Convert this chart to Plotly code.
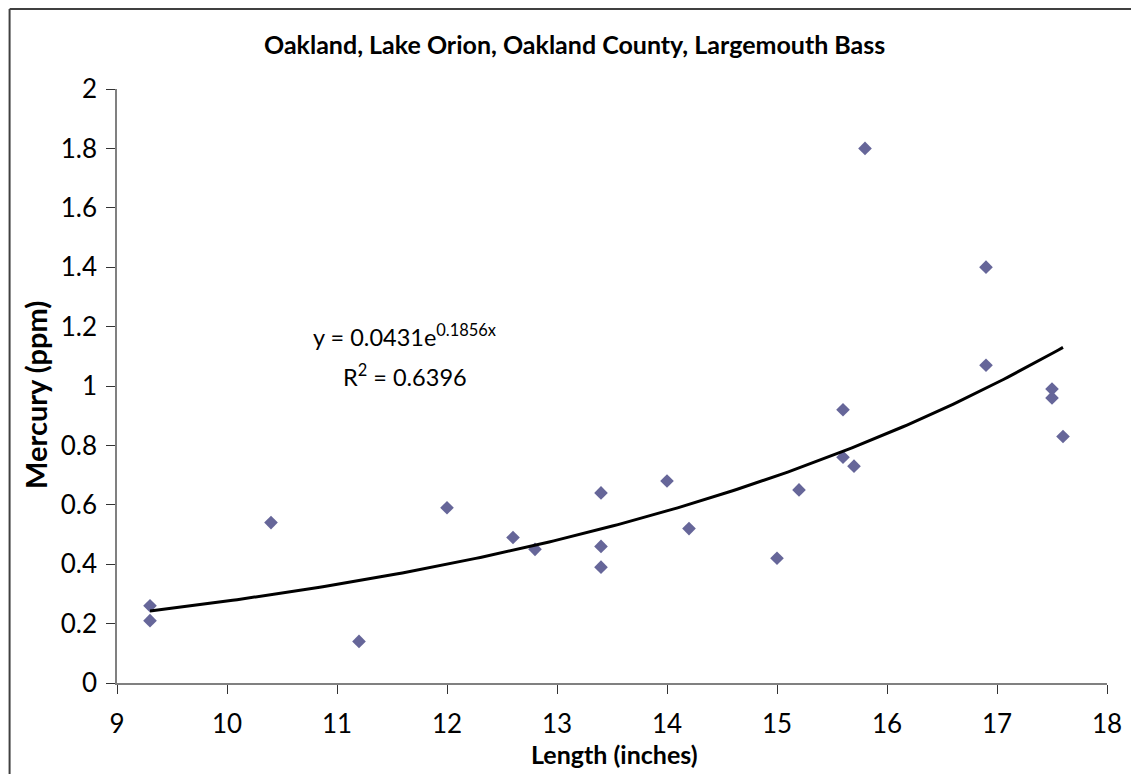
import numpy as np
import plotly.graph_objects as go

# Data
length_in = [9.3, 9.3, 10.4, 11.2, 12.0, 12.6, 12.8, 13.4, 13.4, 13.4, 14.0, 14.2,
             15.0, 15.2, 15.6, 15.6, 15.7, 15.8, 16.9, 16.9, 17.5, 17.5, 17.6]
mercury_ppm = [0.26, 0.21, 0.54, 0.14, 0.59, 0.49, 0.45, 0.64, 0.46, 0.39, 0.68, 0.52,
               0.42, 0.65, 0.92, 0.76, 0.73, 1.80, 1.40, 1.07, 0.99, 0.96, 0.83]

# Exponential trendline coefficients shown on the chart
trend_a = 0.0431
trend_b = 0.1856
trend_r2 = 0.6396

x_ticks = [9, 10, 11, 12, 13, 14, 15, 16, 17, 18]
y_ticks = [0, 0.2, 0.4, 0.6, 0.8, 1, 1.2, 1.4, 1.6, 1.8, 2]
y_tick_text = ["0", "0.2", "0.4", "0.6", "0.8", "1", "1.2", "1.4", "1.6", "1.8", "2"]

FONT = "Lato"

tx = np.linspace(min(length_in), max(length_in), 200)
ty = trend_a * np.exp(trend_b * tx)

fig = go.Figure()
fig.add_trace(go.Scatter(
    x=length_in, y=mercury_ppm, mode="markers",
    marker=dict(symbol="diamond", size=10.5, color="#666699"),
    showlegend=False, hoverinfo="x+y"))
fig.add_trace(go.Scatter(
    x=tx, y=ty, mode="lines", line=dict(color="black", width=3),
    showlegend=False, hoverinfo="skip"))

border = dict(color="#404040", width=2)
fig.update_layout(
    width=1139, height=774,
    margin=dict(l=109, r=40, t=81, b=99),
    paper_bgcolor="white", plot_bgcolor="white",
    font=dict(family=FONT, color="black"),
    xaxis=dict(range=[9, 18], tickvals=x_ticks, ticks="outside", ticklen=9,
               tickcolor="#333", showline=True, linecolor="#808080", linewidth=1.5,
               showgrid=False, zeroline=False, tickfont=dict(size=26, family=FONT),
               ticklabelstandoff=8),
    yaxis=dict(range=[0, 2], tickvals=y_ticks, ticktext=y_tick_text, ticks="outside",
               ticklen=9, tickcolor="#333", showline=True, linecolor="#808080",
               linewidth=1.5, showgrid=False, zeroline=False,
               tickfont=dict(size=26, family=FONT), ticklabelstandoff=4),
    shapes=[
        dict(type="line", xref="paper", yref="paper", x0=-0.1085, x1=-0.1085,
             y0=-0.2, y1=1.1345, line=border, layer="below"),
        dict(type="line", xref="paper", yref="paper", x0=-0.1085, x1=1.1,
             y0=1.1345, y1=1.1345, line=border, layer="below"),
    ],
    annotations=[
        dict(text="<b>Oakland, Lake Orion, Oakland County, Largemouth Bass</b>",
             xref="paper", yref="paper", x=0.4626, y=1.076, showarrow=False,
             font=dict(size=25, family=FONT), xanchor="center", yanchor="middle"),
        dict(text="<b>Length (inches)</b>", xref="paper", yref="paper",
             x=0.503, y=-0.12, showarrow=False, font=dict(size=25, family=FONT),
             xanchor="center", yanchor="middle"),
        dict(text="<b>Mercury (ppm)</b>", xref="paper", yref="paper",
             x=-0.0818, y=0.485, showarrow=False, textangle=-90,
             font=dict(size=29, family=FONT), xanchor="center", yanchor="middle"),
        dict(text=f"y = {trend_a}e<sup>{trend_b}x</sup>", xref="x", yref="y",
             x=11.61, y=1.17, showarrow=False, font=dict(size=23.5, family=FONT),
             xanchor="center", yanchor="middle"),
        dict(text=f"R<sup>2</sup> = {trend_r2}", xref="x", yref="y",
             x=11.62, y=1.035, showarrow=False, font=dict(size=23.5, family=FONT),
             xanchor="center", yanchor="middle"),
    ],
)

fig.write_html("out.html")
